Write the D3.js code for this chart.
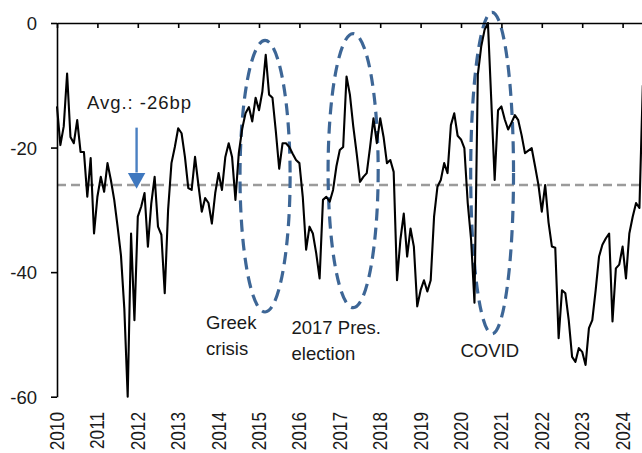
<!DOCTYPE html>
<html lang="en">
<head>
  <meta charset="utf-8">
  <title>Spread, bp</title>
  <script src="https://d3js.org/d3.v7.min.js"></script>
  <style>
    body { margin: 0; background: #fff; font-family: "Liberation Sans", Arial, sans-serif; }
    svg { display: block; }
    .axis path, .axis line { stroke: #000; stroke-width: 1.6px; }
    .axis text { font-size: 18.5px; fill: #1a1a1a; font-family: "Liberation Sans", Arial, sans-serif; }
    .note { font-size: 18.5px; fill: #1a1a1a; }
  </style>
</head>
<body>
  <svg width="642" height="453"></svg>
  <script>
    // monthly values, Jan 2010 onwards (bp)
    const startYear = 2010;
    const spread = [
      -13.4, -19.6, -16.6, -8.1, -18.3, -19.3, -15.6, -20.7, -20.7, -27.9, -21.7, -33.8,   // 2010
      -27.9, -24.7, -27.1, -22.5, -25.2, -28.4, -32.7, -37.3, -45.9, -60.0, -33.8, -47.7,  // 2011
      -31.1, -29.5, -27.3, -35.9, -29.0, -24.7, -32.7, -34.0, -43.4, -30.0, -22.5, -19.9,  // 2012
      -16.9, -17.7, -21.5, -26.5, -26.8, -21.5, -26.0, -30.3, -28.1, -28.9, -32.2, -27.3,  // 2013
      -24.1, -26.8, -21.5, -19.3, -21.5, -28.4, -20.9, -17.0, -14.5, -13.5, -15.8, -12.0,  // 2014
      -14.0, -11.0, -5.1, -11.5, -12.0, -17.4, -23.4, -19.3, -19.3, -19.9, -21.0, -22.0,   // 2015
      -22.5, -27.9, -36.4, -32.7, -33.8, -37.0, -41.0, -28.4, -27.9, -28.7, -26.8, -23.0,  // 2016
      -20.4, -19.9, -8.6, -11.5, -16.6, -20.9, -25.5, -24.7, -24.1, -19.9, -15.3, -19.3,   // 2017
      -15.3, -18.3, -22.5, -22.0, -23.9, -41.3, -34.8, -30.6, -37.5, -33.0, -35.9, -45.5,  // 2018
      -42.9, -41.3, -43.1, -41.3, -31.1, -26.3, -25.2, -22.5, -24.1, -16.4, -14.5, -18.1,  // 2019
      -18.7, -20.1, -28.9, -34.8, -44.9, -8.3, -3.8, -1.1, 0.0, -12.5, -25.2, -14.0,       // 2020
      -13.4, -15.5, -17.1, -16.0, -14.8, -15.6, -18.0, -20.9, -20.5, -20.1, -23.0, -26.0,  // 2021
      -30.3, -26.0, -32.0, -35.9, -36.1, -50.6, -42.9, -43.4, -47.7, -53.6, -54.4, -52.2,  // 2022
      -52.8, -54.9, -49.0, -47.7, -42.9, -37.5, -35.6, -34.6, -33.8, -47.9, -39.4, -38.8,  // 2023
      -35.9, -41.0, -33.8, -31.1, -28.9, -29.7, -10.0                                      // 2024
    ];
    const yearTicks = [2010, 2011, 2012, 2013, 2014, 2015, 2016, 2017, 2018, 2019, 2020, 2021, 2022, 2023, 2024];
    const yTicks = [0, -20, -40, -60];
    const avgSpread = -26;
    const avgLabel = "Avg.: -26bp";

    // highlighted episodes: centre (year, bp) and half-widths (years, bp)
    const eventCentre = [[2015.15, -24.6], [2017.33, -23.7], [2020.77, -24.1]];
    const eventRadius = [[0.62, 21.8], [0.62, 22.0], [0.53, 25.8]];
    const eventLines = [["Greek", "crisis"], ["2017 Pres.", "election"], ["COVID"]];

    const svg = d3.select("svg");

    const x = d3.scaleLinear().domain([2010, 2024.5]).range([57, 642.8]);
    const y = d3.scaleLinear().domain([-60, 0]).range([396.7, 23]);

    // average line
    svg.append("line")
      .attr("x1", x(2010)).attr("x2", x(2024.5))
      .attr("y1", y(avgSpread)).attr("y2", y(avgSpread))
      .attr("stroke", "#9b9b9b")
      .attr("stroke-width", 2.6)
      .attr("stroke-dasharray", "9,5");

    // dashed ellipses round the episodes
    svg.append("g").selectAll("ellipse")
      .data(eventCentre)
      .enter().append("ellipse")
        .attr("cx", d => x(d[0]))
        .attr("cy", d => y(d[1]))
        .attr("rx", (d, i) => x(startYear + eventRadius[i][0]) - x(startYear))
        .attr("ry", (d, i) => y(-eventRadius[i][1]) - y(0))
        .attr("fill", "none")
        .attr("stroke", "#3d6696")
        .attr("stroke-width", 3.2)
        .attr("stroke-dasharray", "12,7");

    // series
    const line = d3.line()
      .x((d, i) => x(startYear + i / 12))
      .y(d => y(d));

    svg.append("path")
      .datum(spread)
      .attr("d", line)
      .attr("fill", "none")
      .attr("stroke", "#000")
      .attr("stroke-width", 2.1)
      .attr("stroke-linejoin", "round");

    // axes
    svg.append("g")
      .attr("class", "axis")
      .attr("transform", `translate(0,${y(0)})`)
      .call(d3.axisBottom(x).tickValues(yearTicks).tickSize(5).tickSizeOuter(0).tickFormat(""));

    svg.append("g")
      .attr("class", "axis")
      .attr("transform", `translate(${x(2010)},0)`)
      .call(d3.axisLeft(y).tickValues(yTicks).tickSize(6).tickSizeOuter(0).tickPadding(14)
        .tickFormat(d => String(d)))
      .selectAll("text").attr("dy", "0.36em");

    // year labels, rotated, along the bottom
    svg.append("g").selectAll("text")
      .data(yearTicks)
      .enter().append("text")
        .attr("transform", d => `translate(${x(d)},412) scale(1.14,1) rotate(-90)`)
        .attr("text-anchor", "end")
        .attr("dy", "0.36em")
        .attr("font-size", "17.2px")
        .attr("fill", "#1a1a1a")
        .text(d => d);

    // average annotation with arrow
    svg.append("text")
      .attr("class", "note")
      .attr("x", 87).attr("y", 108.5)
      .attr("textLength", 104)
      .text(avgLabel);

    const ax = x(2011.97);
    svg.append("line")
      .attr("x1", ax).attr("x2", ax)
      .attr("y1", y(-16.8)).attr("y2", y(-24))
      .attr("stroke", "#4a80c2")
      .attr("stroke-width", 2.4);
    svg.append("path")
      .attr("d", `M${ax - 8.7},${y(-24.1)}L${ax + 8.7},${y(-24.1)}L${ax},${y(-26.6)}Z`)
      .attr("fill", "#3f78bf");

    // episode labels
    const labelPos = [[206, 328.5], [291.5, 333.5], [460.5, 357]];
    eventLines.forEach((lines, i) => {
      const t = svg.append("text").attr("class", "note");
      lines.forEach((s, j) => {
        t.append("tspan")
          .attr("x", labelPos[i][0])
          .attr("y", labelPos[i][1] + j * 26)
          .text(s);
      });
    });
  </script>
</body>
</html>
